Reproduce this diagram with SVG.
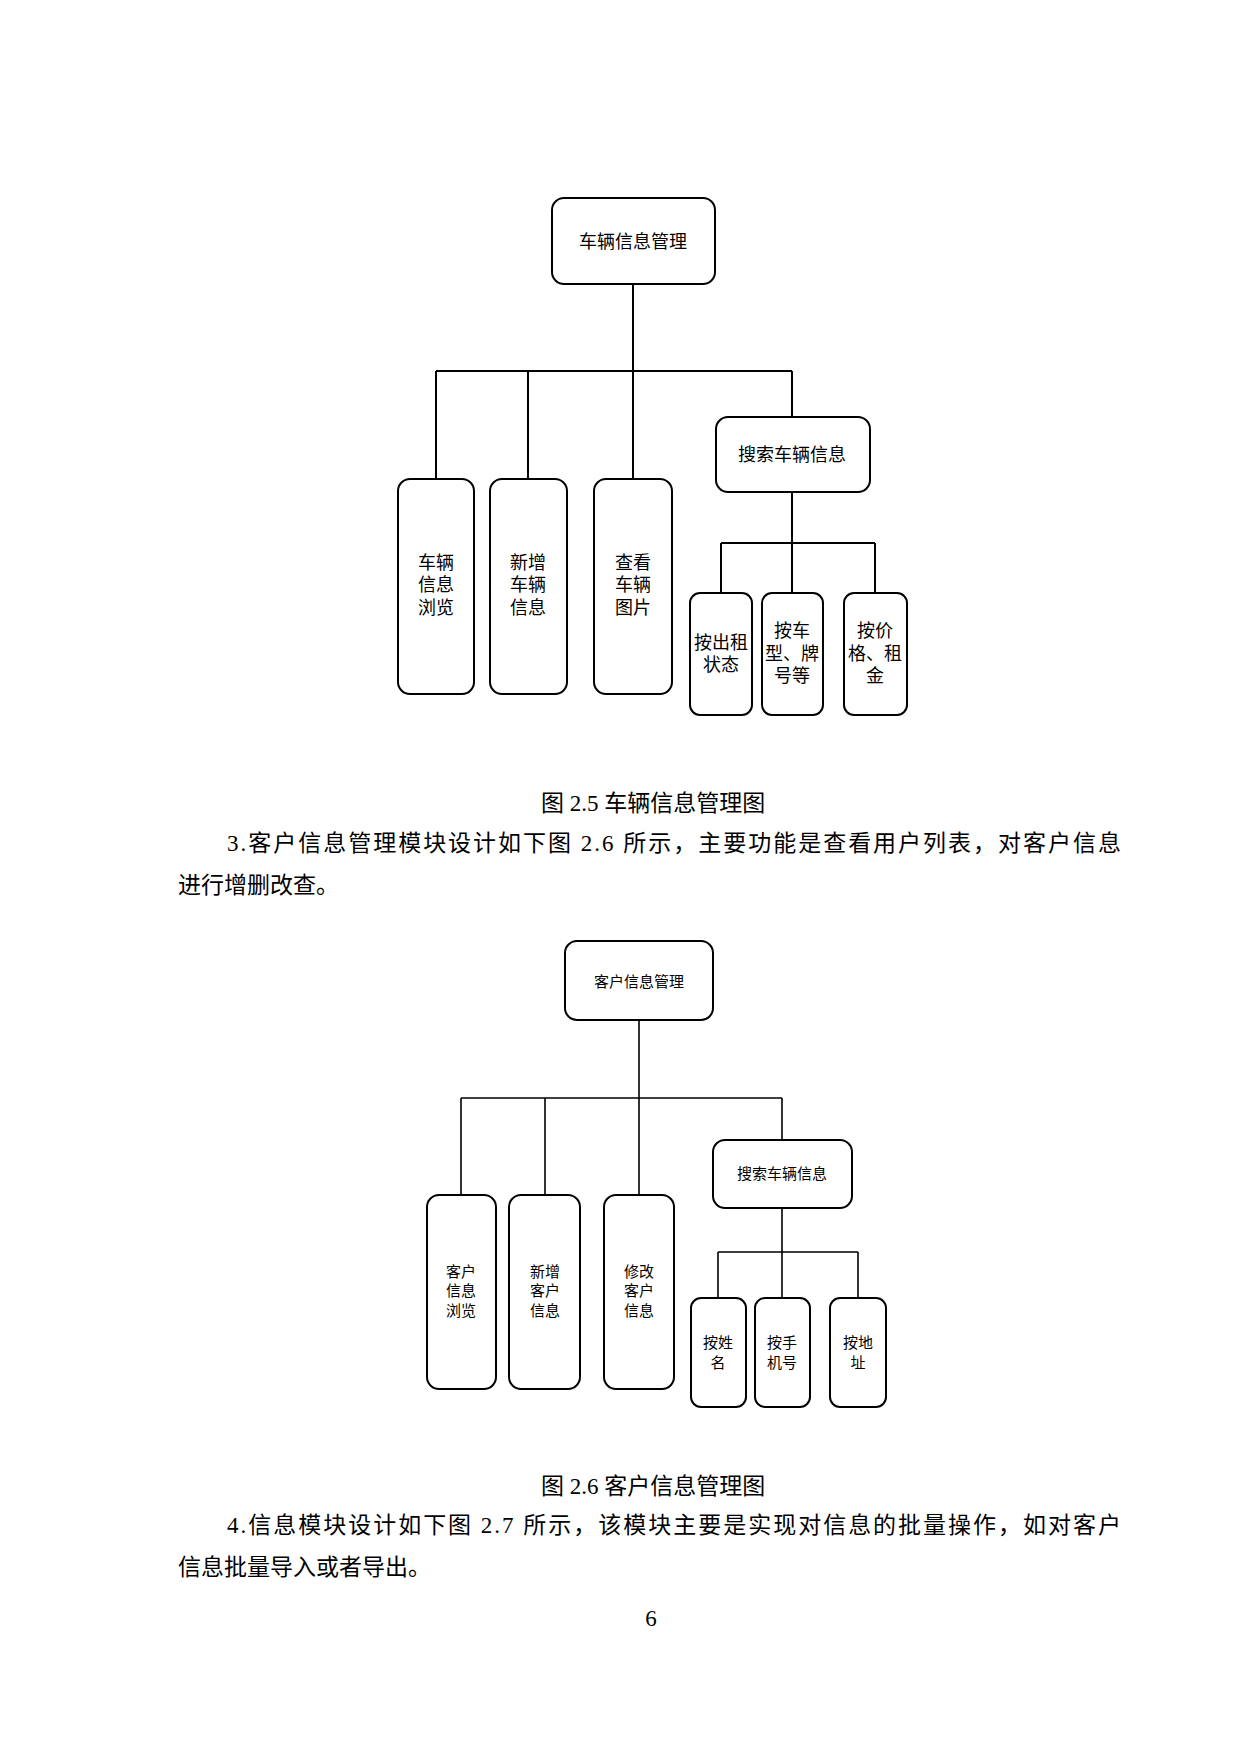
<svg xmlns="http://www.w3.org/2000/svg" width="1240" height="1754" viewBox="0 0 1240 1754">
<style>
.b{fill:#fff;stroke:#000;stroke-width:2}
.c{fill:none;stroke:#000;stroke-width:2}
.c2{fill:none;stroke:#000;stroke-width:1.6}
.t{font-family:"Noto Sans CJK SC",sans-serif;font-size:18px;text-anchor:middle;fill:#000}
.s{font-family:"Noto Sans CJK SC",sans-serif;font-size:15px;text-anchor:middle;fill:#000}
.p{font-family:"Liberation Serif","Noto Sans CJK SC",serif;font-size:23px;fill:#000}
</style>
<rect width="1240" height="1754" fill="#fff"/>
<g transform="translate(-2,-2)">
<g id="connectors1">
<path class="c" d="M635 286V373M438 373H794M438 373V481M530 373V481M635 373V481M794 373V419M794 494V545M723 545H877M723 545V595M794 545V595M877 545V595"/>
</g>
<g id="n1"><rect class="b" x="554" y="200" width="163" height="86" rx="12"/><text class="t" x="635" y="250">车辆信息管理</text></g>
<g id="n2"><rect class="b" x="718" y="419" width="154" height="75" rx="12"/><text class="t" x="794" y="463">搜索车辆信息</text></g>
<g id="n3"><rect class="b" x="400" y="481" width="76" height="215" rx="12"/><text class="t" x="438" y="571">车辆</text><text class="t" x="438" y="593">信息</text><text class="t" x="438" y="616">浏览</text></g>
<g id="n4"><rect class="b" x="492" y="481" width="77" height="215" rx="12"/><text class="t" x="530" y="571">新增</text><text class="t" x="530" y="593">车辆</text><text class="t" x="530" y="616">信息</text></g>
<g id="n5"><rect class="b" x="596" y="481" width="78" height="215" rx="12"/><text class="t" x="635" y="571">查看</text><text class="t" x="635" y="593">车辆</text><text class="t" x="635" y="616">图片</text></g>
<g id="n6"><rect class="b" x="692" y="595" width="62" height="122" rx="10"/><text class="t" x="723" y="651">按出租</text><text class="t" x="723" y="673">状态</text></g>
<g id="n7"><rect class="b" x="764" y="595" width="61" height="122" rx="10"/><text class="t" x="794" y="639">按车</text><text class="t" x="794" y="662">型、牌</text><text class="t" x="794" y="684">号等</text></g>
<g id="n8"><rect class="b" x="846" y="595" width="63" height="122" rx="10"/><text class="t" x="877" y="639">按价</text><text class="t" x="877" y="662">格、租</text><text class="t" x="877" y="684">金</text></g>
<text class="p" x="655" y="813" text-anchor="middle">图 2.5 车辆信息管理图</text>
<text class="p" x="229" y="853" textLength="894" lengthAdjust="spacing">3.客户信息管理模块设计如下图 2.6 所示，主要功能是查看用户列表，对客户信息</text>
<text class="p" x="180" y="895">进行增删改查。</text>
<g id="connectors2">
<path class="c2" d="M641 1022V1100M463 1100H784M463 1100V1197M547 1100V1197M641 1100V1197M784 1100V1142M784 1210V1254M720 1254H860M720 1254V1300M784 1254V1300M860 1254V1300"/>
</g>
<g id="m1"><rect class="b" x="567" y="943" width="148" height="79" rx="12"/><text class="s" x="641" y="989">客户信息管理</text></g>
<g id="m2"><rect class="b" x="715" y="1142" width="139" height="68" rx="12"/><text class="s" x="784" y="1181">搜索车辆信息</text></g>
<g id="m3"><rect class="b" x="429" y="1197" width="69" height="194" rx="12"/><text class="s" x="463" y="1279">客户</text><text class="s" x="463" y="1298">信息</text><text class="s" x="463" y="1318">浏览</text></g>
<g id="m4"><rect class="b" x="511" y="1197" width="71" height="194" rx="12"/><text class="s" x="547" y="1279">新增</text><text class="s" x="547" y="1298">客户</text><text class="s" x="547" y="1318">信息</text></g>
<g id="m5"><rect class="b" x="606" y="1197" width="70" height="194" rx="12"/><text class="s" x="641" y="1279">修改</text><text class="s" x="641" y="1298">客户</text><text class="s" x="641" y="1318">信息</text></g>
<g id="m6"><rect class="b" x="693" y="1300" width="55" height="109" rx="10"/><text class="s" x="720" y="1350">按姓</text><text class="s" x="720" y="1370">名</text></g>
<g id="m7"><rect class="b" x="757" y="1300" width="55" height="109" rx="10"/><text class="s" x="784" y="1350">按手</text><text class="s" x="784" y="1370">机号</text></g>
<g id="m8"><rect class="b" x="832" y="1300" width="56" height="109" rx="10"/><text class="s" x="860" y="1350">按地</text><text class="s" x="860" y="1370">址</text></g>
<text class="p" x="655" y="1496" text-anchor="middle">图 2.6 客户信息管理图</text>
<text class="p" x="229" y="1535" textLength="894" lengthAdjust="spacing">4.信息模块设计如下图 2.7 所示，该模块主要是实现对信息的批量操作，如对客户</text>
<text class="p" x="180" y="1577">信息批量导入或者导出。</text>
<text class="p" x="653" y="1628" text-anchor="middle" font-size="18">6</text>
</g>
</svg>
